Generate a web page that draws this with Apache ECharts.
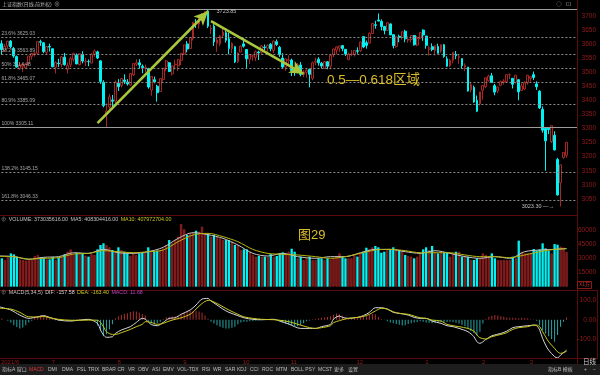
<!DOCTYPE html>
<html><head><meta charset="utf-8">
<script src="https://cdn.jsdelivr.net/npm/echarts/dist/echarts.min.js"></script>
<style>html,body{margin:0;padding:0;background:#000;overflow:hidden}#c{width:600px;height:375px}</style>
</head><body><div id="c"></div>
<script>
// ---------- DATA ----------
const monthDays = [
 ['2021/6', [7,8,9,10,11,15,16,17,18,21,22,23,24,25,28,29,30]],
 ['2021/7', [1,2,5,6,7,8,9,12,13,14,15,16,19,20,21,22,23,26,27,28,29,30]],
 ['2021/8', [2,3,4,5,6,9,10,11,12,13,16,17,18,19,20,23,24,25,26,27,30,31]],
 ['2021/9', [1,2,3,6,7,8,9,10,13,14,15,16,17,22,23,24,27,28,29,30]],
 ['2021/10',[8,11,12,13,14,15,18,19,20,21,22,25,26,27,28,29]],
 ['2021/11',[1,2,3,4,5,8,9,10,11,12,15,16,17,18,19,22,23,24,25,26,29,30]],
 ['2021/12',[1,2,3,6,7,8,9,10,13,14,15,16,17,20,21,22,23,24,27,28,29,30,31]],
 ['2022/1', [4,5,6,7,10,11,12,13,14,17,18,19,20,21,24,25,26,27,28]],
 ['2022/2', [7,8,9,10,11,14,15,16,17,18,21,22,23,24,25,28]],
 ['2022/3', [1,2,3,4,7,8,9,10,11,14,15,16,17,18]]
];
const opens = [
 3615,3601,3576,3593,3610,3584,3555,3513,3521,3515,3531,3556,3562,3567,3608,3604,3570,
 3591,3583,3517,3532,3527,3553,3510,3526,3545,3560,3526,3563,3536,3537,3532,3565,3572,3540,3464,3350,3376,3401,
 3397,3460,3452,3472,3465,3454,3490,3528,3533,3521,3513,3512,3436,3473,3450,3431,3474,3519,3533,3494,3526,3522,
 3542,3565,3600,3584,3620,3680,3670,3695,3706,3717,3653,3663,3602,3600,3629,3640,3618,3583,3590,3537,
 3571,3600,3580,3546,3556,3552,3571,3570,3589,3585,3599,3577,3608,3588,3550,3518,
 3540,3543,3501,3500,3525,3492,3499,3510,3478,3535,3546,3531,3513,3537,3521,3561,3578,3585,3594,3581,3544,3562,
 3562,3576,3577,3626,3604,3603,3637,3668,3685,3680,3662,3648,3671,3633,3591,3627,3623,3645,3614,3616,3630,3596,3621,
 3649,3628,3581,3590,3576,3591,3574,3597,3547,3523,3542,3563,3552,3548,3518,3518,3437,3446,3400,
 3387,3435,3448,3469,3487,3452,3433,3453,3464,3466,3491,3478,3463,3473,3435,3440,
 3463,3477,3491,3458,3432,3368,3300,3301,3253,3276,3190,3107,3197,3205
];
const closes = [
 3599,3580,3591,3610,3590,3557,3518,3526,3525,3529,3557,3566,3567,3608,3606,3573,3591,
 3589,3519,3534,3530,3554,3526,3524,3548,3567,3529,3565,3539,3539,3537,3563,3575,3550,3467,3381,3362,3412,3397,
 3464,3448,3477,3467,3458,3495,3530,3533,3525,3516,3517,3447,3485,3466,3427,3477,3514,3540,3502,3522,3528,3544,
 3567,3597,3582,3622,3677,3675,3693,3703,3715,3663,3656,3607,3614,3628,3642,3613,3583,3602,3536,3568,
 3592,3592,3547,3562,3558,3572,3568,3593,3587,3595,3583,3610,3598,3562,3518,3547,
 3544,3506,3499,3527,3492,3499,3507,3492,3533,3539,3533,3522,3537,3521,3560,3582,3589,3593,3584,3564,3563,3564,
 3577,3574,3607,3589,3595,3638,3673,3666,3681,3662,3648,3675,3632,3594,3625,3623,3643,3618,3616,3630,3597,3619,3640,
 3632,3595,3586,3580,3594,3567,3597,3555,3521,3542,3570,3558,3555,3523,3524,3433,3456,3394,3361,
 3430,3453,3480,3486,3463,3429,3447,3466,3468,3491,3491,3457,3489,3430,3451,3462,
 3489,3484,3481,3448,3373,3294,3256,3296,3310,3224,3064,3171,3215,3251
];
const highs = [
 3625,3613,3600,3611,3614,3589,3559,3533,3533,3530,3558,3567,3571,3608,3615,3606,3593,
 3601,3584,3538,3547,3557,3568,3534,3555,3568,3566,3566,3574,3551,3545,3567,3580,3576,3541,3471,3389,3422,3419,
 3470,3475,3479,3492,3475,3495,3531,3546,3546,3527,3527,3515,3486,3484,3455,3478,3514,3543,3536,3523,3544,3547,
 3568,3597,3610,3622,3677,3688,3693,3709,3715,3723.85,3668,3670,3624,3631,3653,3646,3640,3606,3593,3569,
 3594,3621,3580,3563,3562,3577,3576,3596,3598,3598,3603,3612,3616,3593,3567,3548,
 3560,3548,3510,3532,3536,3507,3510,3510,3537,3551,3553,3536,3540,3538,3561,3584,3592,3593,3596,3581,3569,3578,
 3577,3588,3608,3626,3612,3641,3674,3682,3708,3687,3664,3676,3673,3633,3627,3633,3644,3650,3627,3632,3632,3628,3642,
 3652,3628,3594,3602,3594,3601,3598,3600,3556,3547,3570,3575,3563,3548,3531,3518,3462,3452,3417,
 3430,3453,3480,3491,3497,3458,3449,3470,3475,3491,3495,3478,3490,3474,3461,3468,
 3490,3485,3502,3467,3436,3378,3303,3305,3310,3290,3196,3172,3216,3252
];
const lows = [
 3578,3562,3572,3583,3585,3551,3516,3508,3501,3512,3527,3544,3555,3562,3593,3567,3562,
 3573,3517,3495,3518,3517,3523,3495,3518,3537,3528,3524,3531,3522,3521,3531,3555,3546,3458,3375,3305.11,3367,3368,
 3385,3433,3445,3458,3452,3452,3486,3521,3512,3496,3500,3441,3416,3460,3395,3430,3466,3503,3500,3488,3510,3504,
 3525,3561,3570,3584,3612,3657,3654,3683,3690,3656,3634,3593,3572,3592,3620,3605,3563,3568,3532,3532,
 3571,3587,3515,3529,3540,3539,3543,3563,3578,3573,3574,3567,3593,3554,3514,3504,
 3526,3486,3487,3496,3485,3482,3480,3446,3471,3524,3523,3514,3512,3510,3510,3553,3563,3572,3574,3557,3543,3556,
 3555,3565,3571,3585,3583,3600,3637,3654,3680,3648,3634,3645,3632,3584,3586,3606,3615,3606,3604,3605,3594,3592,3617,
 3611,3583,3559,3574,3559,3566,3568,3551,3519,3518,3531,3546,3529,3511,3503,3431,3428,3391,3358,
 3381,3402,3443,3466,3462,3418,3425,3450,3456,3461,3475,3442,3459,3400,3433,3436,
 3455,3466,3472,3437,3369,3285,3150,3280,3248,3222,3062,3023.3,3193,3196
];
// volume in units of 10^4 shares
const volumes = [
 30400,30400,28600,33000,35700,34700,32200,29300,28600,27900,28600,28600,32900,34000,31500,31100,29300,
 29300,32000,28600,31500,32200,34700,37500,40000,35000,36400,36400,35700,33200,32200,34700,34000,40000,44700,46500,44700,42200,39300,
 37500,42200,39300,37500,35700,33200,35700,34000,35700,36400,36400,42200,38600,37500,38600,39300,41000,44700,50000,46500,50000,53600,
 67200,61500,55400,57200,57900,60000,59000,64300,57200,56500,53600,55400,53600,51800,50000,50000,50000,48200,44700,44700,
 39300,40000,40000,37500,34000,32200,32900,32200,32200,32200,35000,32200,32900,35700,36800,35700,
 37500,40700,37500,30400,32200,28600,30400,32200,28600,28600,30400,30400,28600,30400,29300,30400,32900,35700,32200,30400,30400,30400,
 34700,32200,35700,37500,41800,40000,42200,43600,42200,36400,37500,39300,40400,42200,39300,39300,38600,34000,32900,32200,30400,32200,35700,
 40000,42200,39300,43600,37500,35700,37500,36400,36400,32200,35700,37500,37500,32200,32200,32200,28600,28600,30400,
 30400,35700,34000,32200,35700,30400,28600,28600,28600,28600,28600,32200,30400,49300,37500,35700,
 35700,35700,40400,38600,40000,46500,41000,38600,35700,45700,45000,43000,42000,37303
];
const volMaIdx = [0,5,10,15,20,25,30,35,40,45,50,55,60,65,70,75,80,85,90,95,100,106,111,116,121,126,131,136,141,146,151,156,161,166,171,176,181,186,190];
const volMa5  = [33000,32200,29300,31500,32200,36400,35700,40000,36400,35700,37500,42200,51800,57900,55700,51800,44700,35700,32900,35700,32200,30400,32200,32200,36400,40000,40000,37500,35700,38600,35700,32200,30400,32200,30400,37500,39300,40000,40830];
const volMa10 = [32500,32200,29600,30400,31100,35000,35700,38600,37500,36400,37500,39300,48200,55400,57200,53600,48200,40000,35700,34700,34000,32200,30400,32200,35700,39300,40000,38600,36400,36400,36400,34000,32200,32200,31100,34000,37500,40000,40797];
const macdIdx = [0,4,7,10,13,15,17,20,24,27,30,33,34,35,36,38,39,41,44,46,48,49,51,53,55,57,59,61,64,66,68,70,71,73,75,77,80,82,85,88,92,94,97,101,104,106,108,111,112,114,115,117,120,122,124,126,128,130,132,134,137,139,141,143,145,148,150,152,154,157,159,160,161,163,165,168,170,172,174,177,179,180,181,182,183,184,186,187,188,190];
const difVals = [67,50,24,7,15,21,12,-2,-7,-2,2,-19,-53,-79,-91,-88,-71,-53,-36,-14,7,3,-25,-31,-14,7,10,28,50,76,107,110,97,76,55,38,21,10,2,0,2,-7,-22,-45,-45,-45,-36,-24,3,19,12,7,12,21,38,62,62,55,38,33,24,12,7,7,-7,-19,-31,-36,-45,-62,-88,-114,-122,-102,-83,-71,-59,-41,-36,-31,-28,-31,-53,-97,-131,-157,-191,-197,-183,-157.58];
const deaVals = [59,55,38,15,14,17,10,2,-3,-3,-2,-3,-14,-36,-62,-76,-76,-67,-50,-36,-24,-10,-14,-24,-19,-7,2,10,28,55,84,100,98,84,67,50,28,15,7,2,0,-3,-10,-28,-41,-45,-41,-31,-15,-5,0,7,12,17,28,45,59,55,41,33,28,19,10,7,-2,-7,-24,-31,-36,-45,-59,-79,-93,-100,-88,-76,-67,-50,-41,-36,-28,-28,-36,-62,-88,-114,-148,-166,-174,-163.4];
const macdHist = [
 10,6,0,-5, -15,-28,-38,-45,-40,-28, -15,-5, 12,18,24,20,15,8, 4,-3,-5,-3,2,
 -4,-6,-3,2,3,4,5,3,1,-2, -30,-55,-86,-75,-50,-24,8, 18,25,30,34,40,44,42,36,30,22,
 -8,-20,-25,-18,-10,4, 12,14,16,18,22,28,36,42,45,44,46,42,36,22,
 5,-10,-20,-28,-36,-42,-45,-46,-42,-36,-24,-14, -10,-10,-8,-8,-6,-4,-3, 3,4,5,4,2,
 -8,-15,-22,-26,-30,-34,-34, -28,-18,-8,-4,2,4,8,10,12,14, 18,26,32,28,20,
 8,4,3,6,10,14,18,22,26,30,28,14, 4,-2,-8,-14,-18,-22,-26,-30,-28,-22,-18,-14,-12,-8,
 -10,-14,-16,-18,-16,-12,-10,-14,-12,-10, -12,-16,-20,-26,-34,-46,-58,-70,-79,-62,-20,
 5,15,20,24,22,18,15,12,10,10,9,8,10,9,7, 3,-2,-6,-28,-55,-72,-86,-100,-114,-79,-36,-10,11.68
];
const fibPrices = [3723.85,3625.03,3563.89,3514.48,3465.07,3385.09,3305.11,3145.15,3046.33];
const fibLabels = ['','23.6% 3625.03','38.2% 3563.89','50% 3514.48','61.8% 3465.07','80.9% 3385.09','100% 3305.11','138.2% 3145.15','161.8% 3046.33'];
const monthTickLabels = ['2021/6','7','8','9','10','11','12','1','2','3'];
const priceTicks = {min:3000, max:3727.5, step:50};
const volTicks = {min:0, max:72000, step:15000};
const macdTicks = {min:-200, max:150, step:100};

// ---------- BUILD ----------
const dates = [];
const monthStart = {};
let mi = 0;
monthDays.forEach(([m, ds]) => { monthStart[dates.length] = monthTickLabels[mi++]; ds.forEach(d => dates.push(m + '/' + d)); });
const cats = dates.concat([' ', '  ', '   ']);

const RED = '#a82626', CYAN = '#00f2f2', AXR = '#951c1c', FRAME = '#5a0c0c';
const up = i => closes[i] > opens[i] || (closes[i] === opens[i] && i > 0 && closes[i] >= closes[i-1]);

const candleData = closes.map((c, i) => [opens[i], c, lows[i], highs[i]]);
const volData = volumes.map((v, i) => ({value: v, itemStyle: up(i) ? {color: '#621414', borderColor: '#a02424', borderWidth: 0.8} : {color: CYAN}}));
const histData = macdHist.map(v => ({value: v, itemStyle: {color: v >= 0 ? '#b03030' : '#27a6a6'}}));
const pairs = (idx, vals) => idx.map((k, j) => [k, vals[j]]);

const FONT = '"Liberation Sans","Noto Sans CJK SC",sans-serif';
const GL = -2.6, GW = 579.6;
const hiddenX = g => ({type: 'category', gridIndex: g, data: cats, axisLine: {show: false}, axisTick: {show: false}, axisLabel: {show: false}, splitLine: {show: false}});
const yAx = (g, t, fmt) => ({type: 'value', gridIndex: g, position: 'right', min: t.min, max: t.max, interval: t.step, scale: true,
  axisLine: {show: false}, axisTick: {show: false}, splitLine: {show: false},
  axisLabel: {color: AXR, fontSize: 6.5, fontFamily: FONT, align: 'right', margin: 19, showMinLabel: false, showMaxLabel: false, formatter: fmt}});

const arrowStyle = {color: '#a9c63c', width: 2.6, type: 'solid'};
const fibLines = fibPrices.map((p, k) => ({
  yAxis: p, symbol: 'none',
  lineStyle: {color: (k === 0 || k === 6) ? '#9c9c9c' : '#8a8a8a', width: 1, type: (k === 0 || k === 6) ? 'solid' : [2, 2]},
  label: {show: k !== 0, position: 'insideStartTop', formatter: fibLabels[k], color: '#a8a8a8', fontSize: 5, fontFamily: FONT, distance: [4, 1]}
}));
const arrows = [
  [{coord: [33, 3319], symbol: 'none', lineStyle: arrowStyle}, {coord: [70, 3716], symbol: 'arrow', symbolSize: [10, 14]}],
  [{coord: [71, 3681], symbol: 'none', lineStyle: arrowStyle}, {coord: [102, 3494], symbol: 'arrow', symbolSize: [10, 14]}]
];

// text helpers (measured so that neighbouring texts never overlap)
const mctx = document.createElement('canvas').getContext('2d');
function fontStr(size) { return size + 'px ' + FONT; }
function T(x, y, text, fill, size, align) {
  return {type: 'text', x: x, y: y, silent: true, z: 100,
    style: {text: text, fill: fill, font: fontStr(size), align: align || 'left', verticalAlign: 'middle'}};
}
function row(items, y, size, gap) {
  mctx.font = fontStr(size);
  let end = -Infinity;
  return items.map(([t, x, c]) => { const xx = Math.max(x, end + gap); end = xx + mctx.measureText(t).width; return T(xx, y, t, c, size); });
}
function L(x1, y1, x2, y2, c) { return {type: 'line', silent: true, z: 90, shape: {x1, y1, x2, y2}, style: {stroke: c || FRAME, lineWidth: 1}}; }

const G = '#bdbdbd', Y = '#c8c81e';
const tabs = [['指标A',2],['窗口',13],['MACD',29],['DMI',48],['DMA',62],['FSL',77],['TRIX',88],['BRAR',102],['CR',117],['VR',128],['OBV',138],['ASI',152],['EMV',163],['VOL-TDX',177],['RSI',202],['WR',213],['SAR',225],['KDJ',237],['CCI',250],['ROC',262],['MTM',276],['BOLL',291],['PSY',305],['MCST',318],['更多',334],['设置',348]]
  .map(([t, x]) => [t, x, t === 'MACD' ? '#e03434' : G]);
const tabsR = [['指标B',548,G],['模板',561,G],['+',584,G],['−',593,G]];

const graphics = [
  {type: 'rect', silent: true, z: 80, shape: {x: 0, y: 364, width: 600, height: 11}, style: {fill: '#1d1d1d'}},
  L(0, 215.5, 577, 215.5), L(0, 290.5, 598, 290.5), L(0, 358.5, 598, 358.5), L(577.5, 0, 577.5, 364),
  L(597.5, 290.5, 597.5, 358.5),
  {type: 'rect', silent: true, z: 90, shape: {x: 577.5, y: 281.5, width: 14, height: 7}, style: {fill: 'none', stroke: '#8a1a1a', lineWidth: 1}},
  T(579, 285, 'X1万', '#b83030', 5),
  T(2, 4.5, '上证指数(日线,前复权)', '#b4b4b4', 5),
  T(54, 4.5, '⊗', '#8a8a8a', 6),
  T(556, 4.5, '◇', '#9a9a9a', 6), T(566, 4.5, '⊡', '#9a9a9a', 6),
  T(327, 80, '0.5—0.618区域', '#dcbe2a', 13.5),
  T(298, 235, '图29', '#dcbe2a', 13),
  T(583, 362.5, '日线', '#d0d0d0', 6.5)
].concat(
  row([['⊕',1,'#9a9a9a'],['VOLUME: 373035616.00',7,'#c4c4c4'],['MA5: 408304416.00',67,'#c4c4c4'],['MA10: 407972704.00',115,Y]], 219.5, 5.3, 2.5),
  row([['⊕',1,'#9a9a9a'],['MACD(5,34,5)',8,'#c4c4c4'],['DIF: -157.58',42,'#d8d8d8'],['DEA: -163.40',73,Y],['MACD: 11.68',102,'#c040c0']], 293, 5.3, 2.5),
  row(tabs, 369.5, 5, 1.5),
  row(tabsR, 369.5, 5, 1.5)
);

const option = {
  backgroundColor: '#000', animation: false,
  grid: [
    {left: GL, top: 8, width: GW, height: 205, outerBoundsMode: 'none'},
    {left: GL, top: 219.5, width: GW, height: 67.2, outerBoundsMode: 'none'},
    {left: GL, top: 290.7, width: GW, height: 67.7, outerBoundsMode: 'none'}
  ],
  xAxis: [hiddenX(0), hiddenX(1), {
    type: 'category', gridIndex: 2, data: cats, axisLine: {show: false}, axisTick: {show: false}, splitLine: {show: false},
    axisLabel: {show: true, color: AXR, fontSize: 6, fontFamily: FONT, margin: 1, align: 'left', padding: [0, 0, 0, 2],
      interval: (i) => monthStart[i] !== undefined, formatter: (v, i) => monthStart[i] || ''}
  }],
  yAxis: [yAx(0, priceTicks, v => String(v)), yAx(1, volTicks, v => String(v)), yAx(2, macdTicks, v => v === 0 ? '0.00' : v.toFixed(1))],
  graphic: graphics,
  series: [
    {type: 'candlestick', xAxisIndex: 0, yAxisIndex: 0, data: candleData, barWidth: 2.3,
      itemStyle: {color: '#000', color0: CYAN, borderColor: RED, borderColor0: CYAN, borderWidth: 1},
      markLine: {silent: true, animation: false, symbol: ['none', 'none'], label: {show: false}, data: fibLines.concat(arrows)},
      markPoint: {silent: true, animation: false, symbol: 'circle', symbolSize: 1, itemStyle: {color: 'rgba(0,0,0,0)'},
        data: [
          {coord: [70, 3723.85], label: {show: true, position: 'right', formatter: '3723.85', color: '#c0c0c0', fontSize: 5.5, fontFamily: FONT, offset: [3, 2]}},
          {coord: [188, 3023.3], label: {show: true, position: 'left', formatter: '3023.30 —→', color: '#c0c0c0', fontSize: 5.5, fontFamily: FONT, offset: [-1, 0]}}
        ]}
    },
    {type: 'bar', xAxisIndex: 1, yAxisIndex: 1, data: volData, barWidth: 2.3},
    {type: 'line', xAxisIndex: 1, yAxisIndex: 1, data: pairs(volMaIdx, volMa5), showSymbol: false, smooth: 0.3, lineStyle: {color: '#c6c6c6', width: 1}},
    {type: 'line', xAxisIndex: 1, yAxisIndex: 1, data: pairs(volMaIdx, volMa10), showSymbol: false, smooth: 0.3, lineStyle: {color: '#b4b40e', width: 1}},
    {type: 'bar', xAxisIndex: 2, yAxisIndex: 2, data: histData, barWidth: 1},
    {type: 'line', xAxisIndex: 2, yAxisIndex: 2, data: pairs(macdIdx, difVals), showSymbol: false, smooth: 0.3, lineStyle: {color: '#d6d6d6', width: 1}},
    {type: 'line', xAxisIndex: 2, yAxisIndex: 2, data: pairs(macdIdx, deaVals), showSymbol: false, smooth: 0.3, lineStyle: {color: '#c8c81e', width: 1}}
  ]
};
const chart = echarts.init(document.getElementById('c'));
chart.setOption(option);
</script></body></html>
